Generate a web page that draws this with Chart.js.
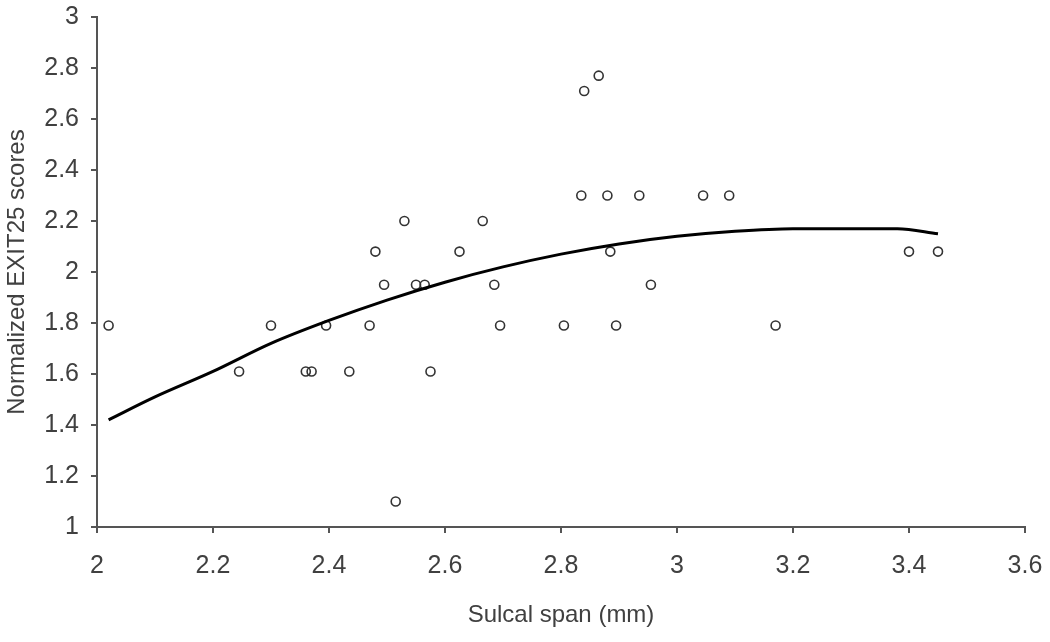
<!DOCTYPE html>
<html>
<head>
<meta charset="utf-8">
<script src="https://cdn.jsdelivr.net/npm/chart.js@4"></script>
<style>
  html, body { margin: 0; padding: 0; background: #fff; }
  #wrap { width: 1050px; height: 642px; }
</style>
</head>
<body>
<div id="wrap"><canvas id="myChart" width="1050" height="642"></canvas></div>
<script>
// scatter values
const spanX = [2.02, 2.245, 2.30, 2.36, 2.37, 2.395, 2.435, 2.47, 2.48, 2.495, 2.515, 2.53,
    2.55, 2.565, 2.575, 2.625, 2.665, 2.685, 2.695, 2.805, 2.835, 2.84, 2.865, 2.88,
    2.885, 2.895, 2.935, 2.955, 3.045, 3.09, 3.17, 3.40, 3.45];
const scoreY = [1.79, 1.61, 1.79, 1.61, 1.61, 1.79, 1.61, 1.79, 2.08, 1.95, 1.10, 2.20,
    1.95, 1.95, 1.61, 2.08, 2.20, 1.95, 1.79, 1.79, 2.30, 2.71, 2.77, 2.30,
    2.08, 1.79, 2.30, 1.95, 2.30, 2.30, 1.79, 2.08, 2.08];

// trend line
const trendX = [2.02, 2.1, 2.2, 2.3, 2.4, 2.5, 2.6, 2.7, 2.8, 2.9, 3.0, 3.1, 3.2, 3.3, 3.38, 3.45];
const trendY = [1.42, 1.51, 1.61, 1.72, 1.81, 1.89, 1.96, 2.02, 2.07, 2.11, 2.14, 2.16, 2.17, 2.17, 2.17, 2.15];

const xTickValues = [2, 2.2, 2.4, 2.6, 2.8, 3, 3.2, 3.4, 3.6];
const xTickLabels = ['2', '2.2', '2.4', '2.6', '2.8', '3', '3.2', '3.4', '3.6'];
const yTickValues = [1, 1.2, 1.4, 1.6, 1.8, 2, 2.2, 2.4, 2.6, 2.8, 3];
const yTickLabels = ['1', '1.2', '1.4', '1.6', '1.8', '2', '2.2', '2.4', '2.6', '2.8', '3'];

const textColor = '#404040';
const axisColor = '#555';

const points = spanX.map((x, i) => ({ x: x, y: scoreY[i] }));
const trend = trendX.map((x, i) => ({ x: x, y: trendY[i] }));

const ctx = document.getElementById('myChart').getContext('2d');
window.myChart = new Chart(ctx, {
    type: 'scatter',
    data: {
        datasets: [
            {
                label: 'Trend',
                type: 'line',
                data: trend,
                borderColor: '#000',
                borderWidth: 3,
                pointRadius: 0,
                cubicInterpolationMode: 'monotone',
                fill: false
            },
            {
                label: 'Scores',
                data: points,
                pointStyle: 'circle',
                pointRadius: 4.5,
                borderColor: '#333',
                borderWidth: 1.6,
                backgroundColor: 'rgba(255,255,255,0)'
            }
        ]
    },
    options: {
        responsive: false,
        animation: false,
        layout: { padding: { left: 0, right: 25, top: 17, bottom: 0 } },
        plugins: {
            legend: { display: false },
            tooltip: { enabled: false }
        },
        scales: {
            x: {
                type: 'linear',
                min: 2,
                max: 3.6,
                afterBuildTicks: (scale) => { scale.ticks = xTickValues.map(v => ({ value: v })); },
                afterFit: (scale) => {
                    scale.height = 115;
                    scale.paddingLeft = 0;
                    scale.paddingRight = 0;
                },
                ticks: {
                    color: textColor,
                    font: { family: 'Liberation Sans, Arial, sans-serif', size: 25 },
                    padding: 18,
                    maxRotation: 0,
                    callback: function (value, index) {
                        return xTickLabels[index];
                    }
                },
                grid: { drawOnChartArea: false, drawTicks: true, tickLength: 6, color: axisColor, lineWidth: 2 },
                border: { display: true, color: axisColor, width: 2 },
                title: {
                    display: true,
                    text: 'Sulcal span (mm)',
                    color: textColor,
                    font: { family: 'Liberation Sans, Arial, sans-serif', size: 24 },
                    padding: { top: 0, bottom: 12 }
                }
            },
            y: {
                type: 'linear',
                min: 1,
                max: 3,
                afterBuildTicks: (scale) => { scale.ticks = yTickValues.map(v => ({ value: v })); },
                afterFit: (scale) => {
                    scale.width = 97;
                    scale.paddingTop = 0;
                    scale.paddingBottom = 0;
                },
                ticks: {
                    color: textColor,
                    font: { family: 'Liberation Sans, Arial, sans-serif', size: 25 },
                    padding: 12,
                    callback: function (value, index) {
                        return yTickLabels[index];
                    }
                },
                grid: { drawOnChartArea: false, drawTicks: true, tickLength: 6, color: axisColor, lineWidth: 2 },
                border: { display: true, color: axisColor, width: 2 },
                title: {
                    display: true,
                    text: 'Normalized EXIT25 scores',
                    color: textColor,
                    font: { family: 'Liberation Sans, Arial, sans-serif', size: 24 },
                    padding: { top: 3, bottom: 0 }
                }
            }
        }
    }
});
</script>
</body>
</html>
